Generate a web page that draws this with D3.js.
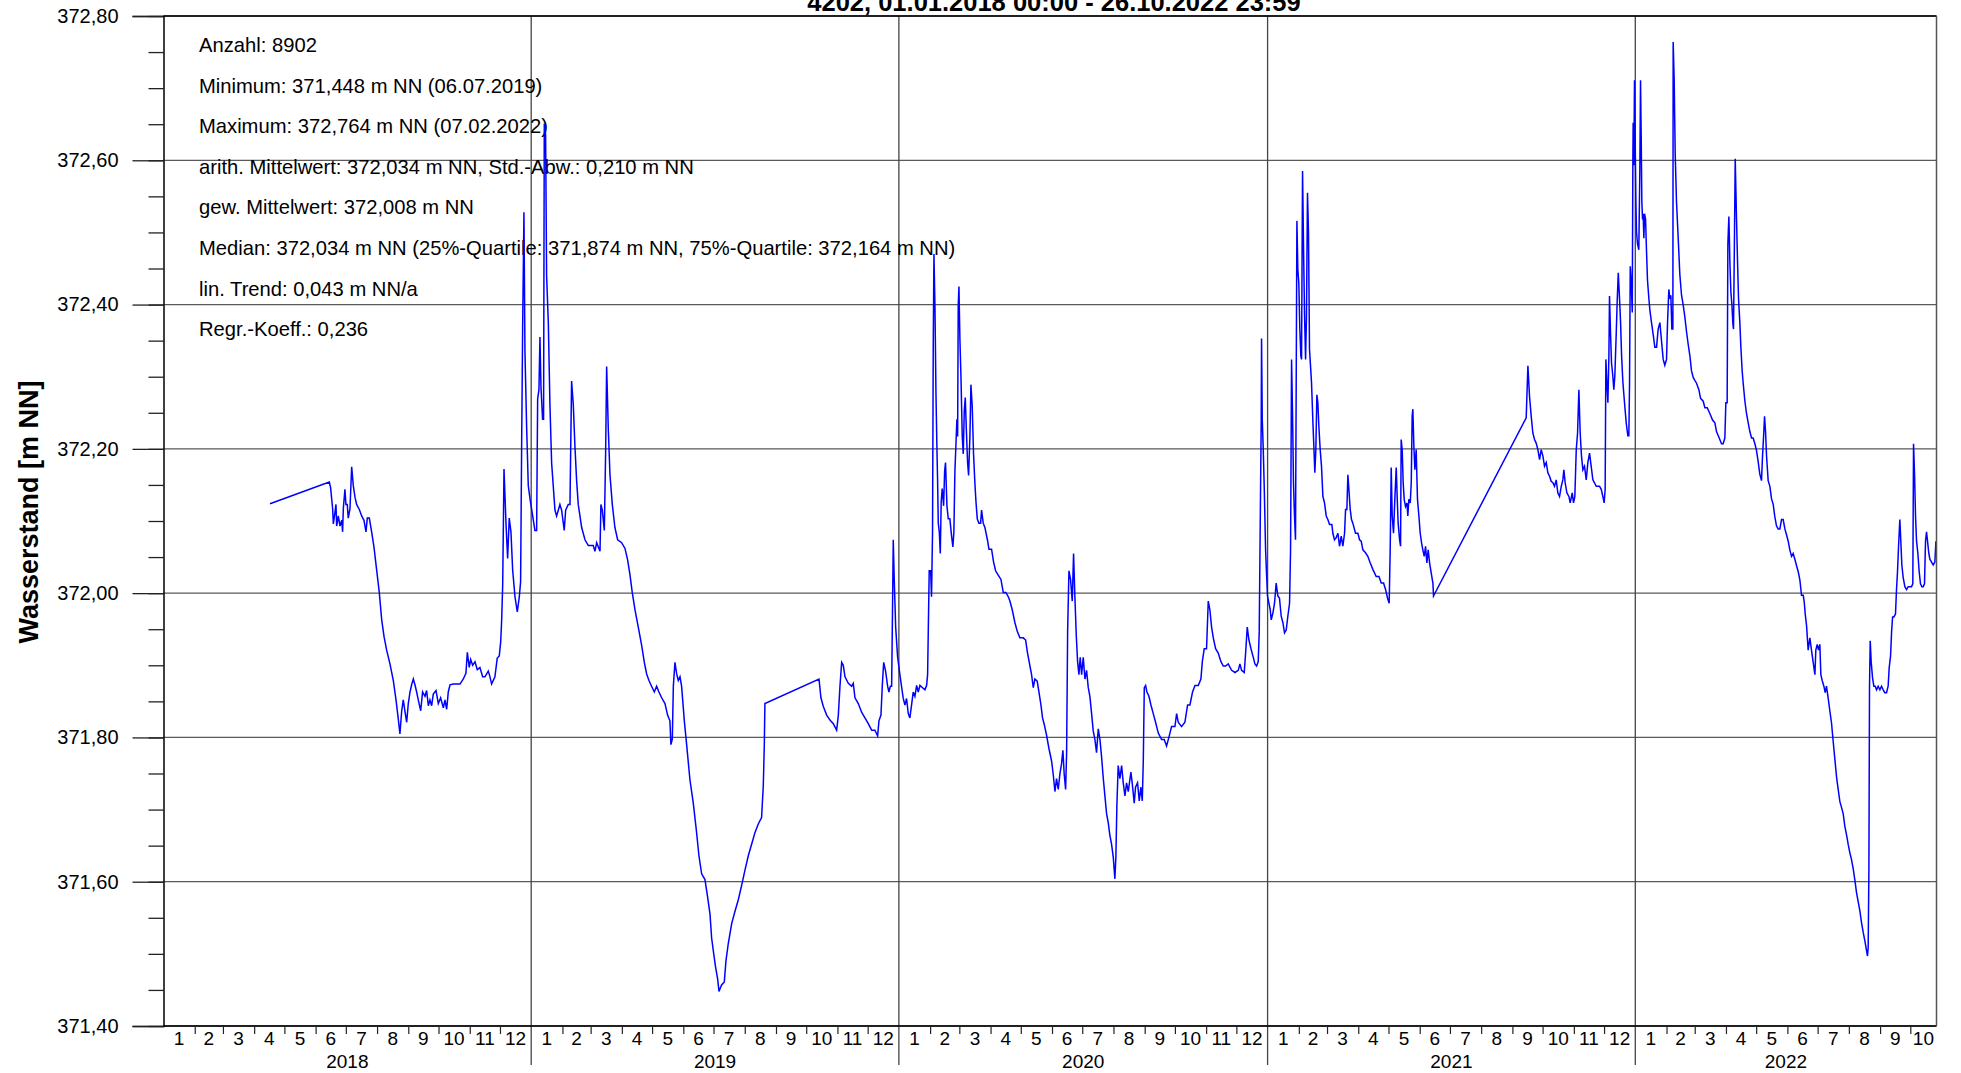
<!DOCTYPE html>
<html><head><meta charset="utf-8">
<script src="https://cdn.jsdelivr.net/npm/d3@7"></script>
<style>
body{margin:0;background:#fff}
svg{display:block}
text{font-family:"Liberation Sans",Arial,sans-serif;fill:#000}
</style>
</head><body>
<svg id="chart" width="1961" height="1073"></svg>
<script>
// ---------- texts ----------
const chartTitle = "4202, 01.01.2018 00:00 - 26.10.2022 23:59";
const yAxisTitle = "Wasserstand [m NN]";
const statsLines = [
  "Anzahl: 8902",
  "Minimum: 371,448 m NN (06.07.2019)",
  "Maximum: 372,764 m NN (07.02.2022)",
  "arith. Mittelwert: 372,034 m NN, Std.-Abw.: 0,210 m NN",
  "gew. Mittelwert: 372,008 m NN",
  "Median: 372,034 m NN (25%-Quartile: 371,874 m NN, 75%-Quartile: 372,164 m NN)",
  "lin. Trend: 0,043 m NN/a",
  "Regr.-Koeff.: 0,236"
];
const years = [2018, 2019, 2020, 2021, 2022];
const periodStart = "2018-01-01";
const periodEnd = "2022-10-27";
const yMajorTicks = [371.4, 371.6, 371.8, 372.0, 372.2, 372.4, 372.6, 372.8];
const yMinorStep = 0.05;

// ---------- data: [day of year (0 = 1 Jan 00:00), water level m NN] ----------
const series2018 = [[105.7,372.124],[164.6,372.154],[165.9,372.146],[167.9,372.117],[168.6,372.096],[170.2,372.112],[171.2,372.123],[171.9,372.093],[173.5,372.107],[175.2,372.093],[176.9,372.101],[177.8,372.085],[178.5,372.117],[180.1,372.144],[181.1,372.123],[182.4,372.123],[183.4,372.104],[185.1,372.117],[186.8,372.175],[188.4,372.149],[190.1,372.133],[191.7,372.123],[194.4,372.116],[196.7,372.107],[199.0,372.101],[201.0,372.085],[202.3,372.104],[204.3,372.104],[206.6,372.085],[208.9,372.064],[211.6,372.032],[214.2,372.001],[216.6,371.963],[218.9,371.940],[221.5,371.921],[224.8,371.902],[228.1,371.879],[230.8,371.852],[233.1,371.825],[234.7,371.805],[236.4,371.836],[238.0,371.852],[239.7,371.836],[241.4,371.821],[243.0,371.847],[244.7,371.863],[246.3,371.873],[248.0,371.881],[249.6,371.873],[251.3,371.863],[252.9,371.852],[255.3,371.837],[257.2,371.863],[259.6,371.857],[261.2,371.865],[262.9,371.844],[264.5,371.852],[266.2,371.844],[267.8,371.860],[270.5,371.865],[272.8,371.847],[275.1,371.855],[277.8,371.841],[279.4,371.852],[281.1,371.839],[282.7,371.863],[284.4,371.873],[287.7,371.874],[294.3,371.874],[297.6,371.881],[300.2,371.889],[301.6,371.918],[303.5,371.897],[304.9,371.908],[306.9,371.900],[309.2,371.905],[311.5,371.894],[314.1,371.897],[316.8,371.884],[319.1,371.884],[322.4,371.892],[324.1,371.884],[325.7,371.874],[329.0,371.884],[331.3,371.910],[333.3,371.913],[334.7,371.932],[335.7,371.963],[336.7,372.011],[338.0,372.172],[340.0,372.096],[341.6,372.048],[343.2,372.104],[344.9,372.085],[346.6,372.032],[348.9,371.995],[351.2,371.974],[353.2,371.995],[354.5,372.016],[355.5,372.202],[356.5,372.367],[357.8,372.528],[358.8,372.335],[360.5,372.229],[362.1,372.149],[363.8,372.131]];

const series2019 = [[3.7,372.087],[5.4,372.087],[6.4,372.269],[7.7,372.282],[8.7,372.355],[9.7,372.286],[11.3,372.241],[12.3,372.241],[13.0,372.651],[14.3,372.635],[15.3,372.440],[17.0,372.375],[18.6,372.261],[20.3,372.180],[23.6,372.115],[25.2,372.107],[26.9,372.115],[28.5,372.123],[30.2,372.115],[32.8,372.087],[34.2,372.115],[36.8,372.123],[38.5,372.123],[40.1,372.294],[41.8,372.261],[43.4,372.204],[45.1,372.156],[46.7,372.123],[50.1,372.091],[53.4,372.074],[56.7,372.066],[61.6,372.066],[63.3,372.058],[65.0,372.070],[68.3,372.058],[69.2,372.123],[70.6,372.115],[72.6,372.087],[73.9,372.196],[74.9,372.314],[76.5,372.229],[78.2,372.164],[80.5,372.123],[83.1,372.091],[85.8,372.074],[89.8,372.070],[93.1,372.062],[95.7,372.046],[98.0,372.026],[100.3,372.001],[103.0,371.977],[106.3,371.953],[109.6,371.928],[112.3,371.904],[114.6,371.888],[116.9,371.879],[119.5,371.871],[122.2,371.863],[124.5,371.871],[126.8,371.863],[129.5,371.855],[132.8,371.847],[135.4,371.831],[137.7,371.823],[138.7,371.790],[140.1,371.798],[141.1,371.871],[142.7,371.904],[144.4,371.888],[146.0,371.879],[147.7,371.884],[149.3,371.871],[152.0,371.823],[154.3,371.790],[157.6,371.741],[160.9,371.709],[164.2,371.668],[166.5,371.636],[169.2,371.611],[172.5,371.603],[175.1,371.579],[177.5,371.555],[179.1,371.522],[181.4,371.498],[183.1,371.481],[185.1,371.465],[186.4,371.448],[189.0,371.457],[191.7,371.461],[193.3,371.490],[195.6,371.514],[199.0,371.542],[202.3,371.559],[205.6,371.575],[208.9,371.595],[212.2,371.616],[215.5,371.636],[218.8,371.652],[222.1,371.668],[225.4,371.680],[228.7,371.689],[230.4,371.733],[231.4,371.790],[232.0,371.847],[285.7,371.881],[287.6,371.855],[290.0,371.843],[293.3,371.831],[296.6,371.824],[299.9,371.819],[303.2,371.810],[304.9,371.831],[306.5,371.871],[308.2,371.904],[309.8,371.900],[311.5,371.884],[314.8,371.875],[318.1,371.871],[319.7,371.875],[321.4,371.855],[324.7,371.847],[328.0,371.835],[331.3,371.827],[334.6,371.819],[338.0,371.810],[341.2,371.810],[343.9,371.802],[345.2,371.823],[347.2,371.831],[348.5,371.871],[349.9,371.904],[351.8,371.892],[353.8,371.871],[355.1,371.863],[356.5,371.871],[357.8,371.871],[358.8,371.993],[359.4,372.074],[360.4,372.018],[361.8,371.953],[363.7,371.912]];

const series2020 = [[1.0,371.887],[4.3,371.854],[6.0,371.845],[7.6,371.854],[9.3,371.833],[10.9,371.827],[12.6,371.845],[14.2,371.863],[15.9,371.857],[17.6,371.872],[19.2,371.863],[20.9,371.872],[25.8,371.866],[27.5,371.872],[28.5,371.887],[29.1,371.941],[30.1,372.031],[31.5,372.031],[32.4,371.995],[33.4,372.085],[34.1,372.344],[34.8,372.470],[35.8,372.398],[36.8,372.277],[37.7,372.205],[38.4,372.157],[39.1,372.097],[40.1,372.085],[41.1,372.055],[42.0,372.127],[43.0,372.145],[44.4,372.121],[45.4,372.169],[46.3,372.181],[47.7,372.121],[49.0,372.103],[50.6,372.103],[52.3,372.079],[53.6,372.064],[54.6,372.085],[55.6,372.169],[56.6,372.205],[57.6,372.241],[58.3,372.217],[58.9,372.398],[59.6,372.425],[60.6,372.350],[61.6,372.301],[62.9,372.217],[63.9,372.193],[64.9,372.253],[65.9,372.271],[66.9,372.229],[68.2,372.181],[69.2,372.163],[70.5,372.217],[71.5,372.289],[72.8,372.259],[74.1,372.193],[75.5,372.151],[76.5,372.127],[77.8,372.103],[79.4,372.097],[81.1,372.097],[82.1,372.115],[83.7,372.097],[85.4,372.091],[88.0,372.073],[89.4,372.061],[92.0,372.061],[94.0,372.043],[96.0,372.031],[98.6,372.025],[101.3,372.019],[103.6,372.001],[106.2,372.001],[108.6,371.995],[110.2,371.989],[112.5,371.977],[115.2,371.959],[117.5,371.947],[120.1,371.938],[123.4,371.938],[125.8,371.935],[127.7,371.917],[130.1,371.899],[131.7,371.887],[133.4,371.869],[135.0,371.881],[137.3,371.878],[139.0,371.863],[141.0,371.845],[142.6,371.827],[144.3,371.818],[146.6,371.803],[148.9,371.785],[151.6,371.767],[153.2,371.749],[154.9,371.725],[156.5,371.743],[158.2,371.728],[159.8,371.749],[161.5,371.764],[162.8,371.782],[164.1,371.749],[165.5,371.728],[166.5,371.779],[167.5,371.947],[168.8,372.031],[170.4,372.019],[172.1,371.989],[173.4,372.055],[174.7,371.995],[176.1,371.941],[177.4,371.905],[178.7,371.887],[180.0,371.911],[181.4,371.887],[183.0,371.911],[184.7,371.881],[186.3,371.893],[188.0,371.869],[189.6,371.857],[191.3,371.833],[192.9,371.809],[194.6,371.797],[196.2,371.779],[197.9,371.812],[199.6,371.797],[201.2,371.773],[202.9,371.743],[204.5,371.719],[206.2,371.694],[207.8,371.682],[209.5,371.664],[211.1,371.652],[212.8,371.634],[214.4,371.604],[215.4,371.634],[216.4,371.706],[217.7,371.761],[219.4,371.743],[221.1,371.761],[222.7,371.737],[224.4,371.719],[226.0,371.737],[227.7,371.725],[230.3,371.752],[231.6,371.737],[233.6,371.709],[234.9,371.731],[236.9,371.737],[238.6,371.712],[240.2,371.731],[241.6,371.712],[242.6,371.767],[243.6,371.869],[244.9,371.872],[246.2,371.863],[248.2,371.857],[250.2,371.845],[252.5,371.833],[254.8,371.821],[257.5,371.806],[260.8,371.797],[263.4,371.797],[265.7,371.788],[268.0,371.800],[270.7,371.815],[274.0,371.815],[275.7,371.833],[277.3,371.821],[280.6,371.815],[283.9,371.821],[286.6,371.845],[288.9,371.845],[291.5,371.863],[293.9,371.872],[297.2,371.872],[299.8,371.881],[301.2,371.905],[303.1,371.923],[305.4,371.923],[307.1,371.989],[308.7,371.977],[310.4,371.953],[312.1,371.938],[314.4,371.923],[317.0,371.917],[319.7,371.905],[322.0,371.899],[324.3,371.899],[326.9,371.902],[330.3,371.893],[333.6,371.890],[336.9,371.893],[338.5,371.902],[340.2,371.893],[342.8,371.890],[344.2,371.917],[345.8,371.953],[347.5,371.935],[349.5,371.923],[351.8,371.911],[353.4,371.902],[355.1,371.899],[356.7,371.905],[357.7,371.947],[358.7,372.097],[359.7,372.241],[360.0,372.353],[360.7,372.241],[361.7,372.199],[362.7,372.145],[364.0,372.060],[364.8,372.032],[365.9,371.996]];

const series2021 = [[1.3,371.986],[2.6,371.977],[3.6,371.963],[5.2,371.972],[6.9,371.986],[8.5,372.014],[10.2,371.996],[11.8,371.993],[13.5,371.968],[15.2,371.959],[16.8,371.945],[18.5,371.949],[20.1,371.968],[21.8,371.986],[22.8,372.060],[23.8,372.324],[24.8,372.245],[25.7,372.153],[26.7,372.107],[27.7,372.074],[28.4,372.292],[29.1,372.516],[30.0,372.449],[31.0,372.430],[32.0,372.366],[33.0,372.329],[33.7,372.324],[34.7,372.585],[35.7,372.477],[36.7,372.384],[37.7,372.324],[38.6,372.384],[39.6,372.555],[40.6,372.500],[41.6,372.338],[42.6,372.315],[43.6,372.292],[45.0,372.236],[45.9,372.204],[46.9,372.167],[47.9,372.199],[48.9,372.275],[49.9,372.264],[50.9,372.231],[52.2,372.199],[53.5,372.176],[54.9,372.134],[56.5,372.125],[58.2,372.107],[59.8,372.102],[61.5,372.095],[63.8,372.095],[64.8,372.083],[66.4,372.074],[68.1,372.077],[69.8,372.083],[71.4,372.065],[73.1,372.079],[74.7,372.065],[76.4,372.083],[77.4,372.116],[78.7,372.116],[79.7,372.164],[80.7,372.144],[82.0,372.116],[83.3,372.102],[84.6,372.097],[87.3,372.083],[89.6,372.083],[91.3,372.074],[92.9,372.072],[94.6,372.060],[97.2,372.056],[99.5,372.051],[101.8,372.042],[104.5,372.033],[107.8,372.023],[110.5,372.023],[112.8,372.014],[115.1,372.014],[117.1,372.005],[119.1,371.993],[120.7,371.986],[121.7,372.060],[122.7,372.174],[123.7,372.107],[125.0,372.083],[126.3,372.130],[127.7,372.174],[128.7,372.130],[129.6,372.097],[131.0,372.074],[132.0,372.065],[132.6,372.213],[133.6,372.199],[134.6,372.153],[135.6,372.130],[136.9,372.120],[138.3,372.125],[139.2,372.107],[140.2,372.130],[141.6,372.125],[142.6,372.153],[143.5,372.245],[144.2,372.255],[145.2,372.204],[146.2,372.171],[147.5,372.199],[148.8,372.130],[150.2,372.107],[151.5,372.083],[152.8,372.070],[154.1,372.060],[155.5,372.051],[156.8,372.065],[158.1,372.042],[159.4,372.060],[160.8,372.042],[162.4,372.028],[164.1,372.014],[164.7,371.996],[256.7,372.243],[258.4,372.315],[260.0,372.273],[261.7,372.245],[263.3,372.222],[265.0,372.213],[266.6,372.208],[268.3,372.199],[270.0,372.185],[271.6,372.199],[273.3,372.190],[274.9,372.176],[276.6,372.181],[278.2,372.167],[279.9,372.162],[281.5,372.155],[283.2,372.153],[284.8,372.148],[286.5,372.157],[288.1,372.139],[289.8,372.134],[291.5,372.148],[293.1,372.157],[294.1,372.171],[295.4,372.153],[297.1,372.139],[299.1,372.134],[300.4,372.125],[302.4,372.139],[303.7,372.125],[305.0,372.134],[306.4,372.199],[307.7,372.222],[309.0,372.282],[310.3,372.222],[311.6,372.190],[313.0,372.171],[314.6,372.176],[316.3,372.157],[317.9,372.181],[319.6,372.194],[321.2,372.176],[322.9,372.157],[324.5,372.153],[326.2,372.148],[329.5,372.148],[331.2,372.144],[332.8,372.134],[334.1,372.125],[335.1,372.144],[335.8,372.324],[336.8,372.292],[337.8,372.264],[338.8,372.329],[339.4,372.412],[340.4,372.361],[341.4,372.319],[342.7,372.301],[343.7,372.282],[344.7,372.301],[346.1,372.361],[347.1,372.407],[348.1,372.444],[349.4,372.407],[350.4,372.375],[351.4,372.329],[352.7,372.292],[354.3,372.264],[356.0,372.236],[357.6,372.218],[358.6,372.218],[359.3,372.292],[360.0,372.453],[361.0,372.430],[362.0,372.389],[362.6,372.602],[362.9,372.652],[363.6,372.593],[364.2,372.711],[364.9,372.627]];

const series2022 = [[0.6,372.543],[1.2,372.501],[2.2,372.484],[3.5,372.476],[4.5,372.585],[5.2,372.711],[5.9,372.627],[6.5,372.543],[7.2,372.518],[7.8,372.526],[8.5,372.492],[9.2,372.526],[10.2,372.518],[11.1,372.476],[12.1,372.434],[13.5,372.408],[14.5,372.392],[16.1,372.375],[17.8,372.358],[19.4,372.341],[21.1,372.341],[22.7,372.366],[24.4,372.375],[26.0,372.350],[27.7,372.324],[29.3,372.316],[31.0,372.324],[32.0,372.375],[33.3,372.421],[34.3,372.408],[35.3,372.413],[36.3,372.366],[37.3,372.366],[37.6,372.764],[38.6,372.711],[39.6,372.610],[40.9,372.543],[42.6,372.492],[44.2,372.442],[45.9,372.413],[47.5,372.400],[49.2,372.383],[50.9,372.362],[52.5,372.345],[54.2,372.329],[55.8,372.308],[57.5,372.299],[59.1,372.295],[60.8,372.291],[63.1,372.282],[64.8,372.270],[67.4,372.266],[69.1,372.257],[71.4,372.257],[74.0,372.249],[76.7,372.240],[79.0,372.236],[80.6,372.224],[83.3,372.215],[85.6,372.207],[87.2,372.207],[88.9,372.215],[89.9,372.264],[91.2,372.264],[91.9,372.484],[92.9,372.522],[93.9,372.459],[94.9,372.417],[95.9,372.400],[96.8,372.375],[97.5,372.366],[98.5,372.501],[99.2,372.602],[100.5,372.518],[101.5,372.459],[102.5,372.408],[103.8,372.375],[104.8,372.341],[106.1,372.308],[107.1,372.291],[108.8,372.266],[110.4,372.249],[112.1,372.236],[113.7,372.224],[115.4,372.215],[117.0,372.215],[118.7,372.207],[120.3,372.198],[122.0,372.182],[123.6,372.165],[125.3,372.156],[126.3,372.190],[127.6,372.224],[128.3,372.245],[129.3,372.224],[130.3,372.190],[131.9,372.156],[133.6,372.148],[135.2,372.131],[136.9,372.123],[138.5,372.106],[140.2,372.093],[141.9,372.089],[143.5,372.089],[145.2,372.102],[146.8,372.102],[148.5,372.089],[150.1,372.081],[151.8,372.072],[153.4,372.060],[155.1,372.051],[156.7,372.055],[158.4,372.047],[160.1,372.038],[161.7,372.030],[163.4,372.018],[164.4,372.005],[165.0,371.997],[166.7,371.997],[167.7,371.988],[168.7,371.971],[170.0,371.955],[171.6,371.921],[173.3,371.938],[174.9,371.921],[176.6,371.904],[178.3,371.887],[179.2,371.921],[180.6,371.929],[181.9,371.921],[183.2,371.929],[184.2,371.887],[185.5,371.879],[187.2,371.871],[188.5,371.862],[189.8,371.871],[191.5,371.854],[193.1,371.837],[194.8,371.820],[196.4,371.795],[198.1,371.770],[199.8,371.745],[201.4,371.728],[203.1,371.711],[204.7,371.703],[206.4,371.694],[208.0,371.677],[209.7,371.665],[211.3,371.652],[213.0,371.640],[214.6,371.631],[216.3,371.618],[218.0,371.602],[219.6,371.585],[221.3,371.572],[222.9,371.560],[224.6,371.543],[226.2,371.530],[227.9,371.518],[229.5,371.505],[230.5,371.497],[231.2,371.509],[231.9,371.618],[232.5,371.871],[233.2,371.934],[234.2,371.904],[235.5,371.883],[236.8,371.871],[238.1,371.871],[239.5,371.866],[241.1,371.871],[242.8,371.866],[244.4,371.871],[246.1,371.866],[247.7,371.862],[249.4,371.862],[251.0,371.871],[252.0,371.896],[253.4,371.913],[254.4,371.946],[255.4,371.967],[256.7,371.967],[258.3,371.971],[259.3,372.005],[260.3,372.030],[261.3,372.064],[262.6,372.102],[263.6,372.072],[264.6,372.039],[265.9,372.022],[267.6,372.009],[269.3,372.005],[270.9,372.009],[272.6,372.009],[274.2,372.009],[275.5,372.013],[276.2,372.207],[277.2,372.165],[278.2,372.106],[279.2,372.072],[280.5,372.055],[281.8,372.030],[283.1,372.013],[284.5,372.009],[285.8,372.009],[287.1,372.013],[288.1,372.072],[289.1,372.085],[290.1,372.072],[291.4,372.055],[292.4,372.047],[294.1,372.043],[295.7,372.039],[297.4,372.043],[298.4,372.072]];

const seriesByYear = {2018: series2018, 2019: series2019, 2020: series2020, 2021: series2021, 2022: series2022};

// ---------- build ----------
const DAY = 864e5;
const points = [];
years.forEach(yr => {
  seriesByYear[yr].forEach(([doy, v]) => {
    points.push({date: new Date(Date.UTC(yr, 0, 1) + doy * DAY), value: v});
  });
});

const plot = {left: 163.5, right: 1936.5, top: 16, bottom: 1026};
const t0 = new Date(periodStart + "T00:00:00Z"), t1 = new Date(periodEnd + "T00:00:00Z");

const x = d3.scaleUtc().domain([t0, t1]).range([plot.left, plot.right]);
const y = d3.scaleLinear().domain([371.4, 372.8]).range([plot.bottom, plot.top]);

const svg = d3.select("#chart");
const deFmt = v => d3.format(".2f")(v).replace(".", ",");

// horizontal grid lines
svg.append("g").selectAll("line").data(yMajorTicks).join("line")
  .attr("x1", plot.left).attr("x2", plot.right)
  .attr("y1", d => y(d)).attr("y2", d => y(d))
  .attr("stroke", "#5a5a5a").attr("stroke-width", 1.3);

// year separator lines
const yearStarts = d3.utcYears(d3.utcDay.offset(t0, 1), t1);
svg.append("g").selectAll("line").data(yearStarts).join("line")
  .attr("x1", d => x(d)).attr("x2", d => x(d))
  .attr("y1", plot.top).attr("y2", 1065)
  .attr("stroke", "#444").attr("stroke-width", 1.3);

// statistics text block
svg.append("g").selectAll("text").data(statsLines).join("text")
  .attr("x", 199).attr("y", (d, i) => 52 + i * 40.6)
  .attr("font-size", 20.2).text(d => d);

// data line
const line = d3.line().x(d => x(d.date)).y(d => y(d.value));
svg.append("path").datum(points)
  .attr("d", line).attr("fill", "none")
  .attr("stroke", "#0000ff").attr("stroke-width", 1.5).attr("stroke-linejoin", "miter");

// y axis: minor ticks
const minorTicks = d3.range(371.4, 372.8 + 1e-9, yMinorStep);
svg.append("g").attr("transform", `translate(${plot.left},0)`)
  .call(d3.axisLeft(y).tickValues(minorTicks).tickSize(15).tickFormat(""))
  .call(g => g.select(".domain").remove())
  .call(g => g.selectAll("line").attr("stroke", "#222").attr("stroke-width", 1.3));

// y axis: major ticks + labels
svg.append("g").attr("transform", `translate(${plot.left},0)`)
  .call(d3.axisLeft(y).tickValues(yMajorTicks).tickSize(31).tickPadding(14).tickFormat(deFmt))
  .call(g => g.select(".domain").attr("stroke", "#000").attr("stroke-width", 1.5))
  .call(g => g.selectAll("line").attr("stroke", "#222").attr("stroke-width", 1.3))
  .call(g => g.selectAll("text").attr("font-size", 20).attr("font-family", '"Liberation Sans",Arial,sans-serif').attr("fill", "#000"));

// x axis: month ticks
const monthStarts = d3.utcMonths(t0, t1).filter(d => d.getUTCMonth() !== 0);
svg.append("g").attr("transform", `translate(0,${plot.bottom})`)
  .call(d3.axisBottom(x).tickValues(monthStarts).tickSize(8).tickFormat(""))
  .call(g => g.select(".domain").attr("stroke", "#000").attr("stroke-width", 1.5).attr("d", `M${plot.left},0H${plot.right}`))
  .call(g => g.selectAll("line").attr("stroke", "#222").attr("stroke-width", 1.2));

// month labels
const months = d3.utcMonths(t0, t1);
svg.append("g").selectAll("text").data(months).join("text")
  .attr("x", d => (x(d) + x(d3.min([d3.utcMonth.offset(d, 1), t1]))) / 2)
  .attr("y", 1045).attr("text-anchor", "middle").attr("font-size", 19)
  .text(d => d.getUTCMonth() + 1);

// year labels
svg.append("g").selectAll("text").data(years).join("text")
  .attr("x", yr => {
    const a = d3.max([new Date(Date.UTC(yr, 0, 1)), t0]);
    const b = d3.min([new Date(Date.UTC(yr + 1, 0, 1)), t1]);
    return (x(a) + x(b)) / 2;
  })
  .attr("y", 1068).attr("text-anchor", "middle").attr("font-size", 19)
  .text(yr => yr);

// frame: top and right
svg.append("line").attr("x1", plot.left).attr("x2", plot.right).attr("y1", plot.top).attr("y2", plot.top)
  .attr("stroke", "#000").attr("stroke-width", 1.6);
svg.append("line").attr("x1", plot.right).attr("x2", plot.right).attr("y1", plot.top).attr("y2", plot.bottom)
  .attr("stroke", "#555").attr("stroke-width", 1.5);

// titles
svg.append("text").attr("x", 1054).attr("y", 11).attr("text-anchor", "middle")
  .attr("font-size", 25.5).attr("font-weight", "bold").text(chartTitle);

svg.append("text").attr("transform", "translate(38,512) rotate(-90)")
  .attr("text-anchor", "middle").attr("font-size", 27).attr("font-weight", "bold")
  .text(yAxisTitle);
</script>
</body></html>
